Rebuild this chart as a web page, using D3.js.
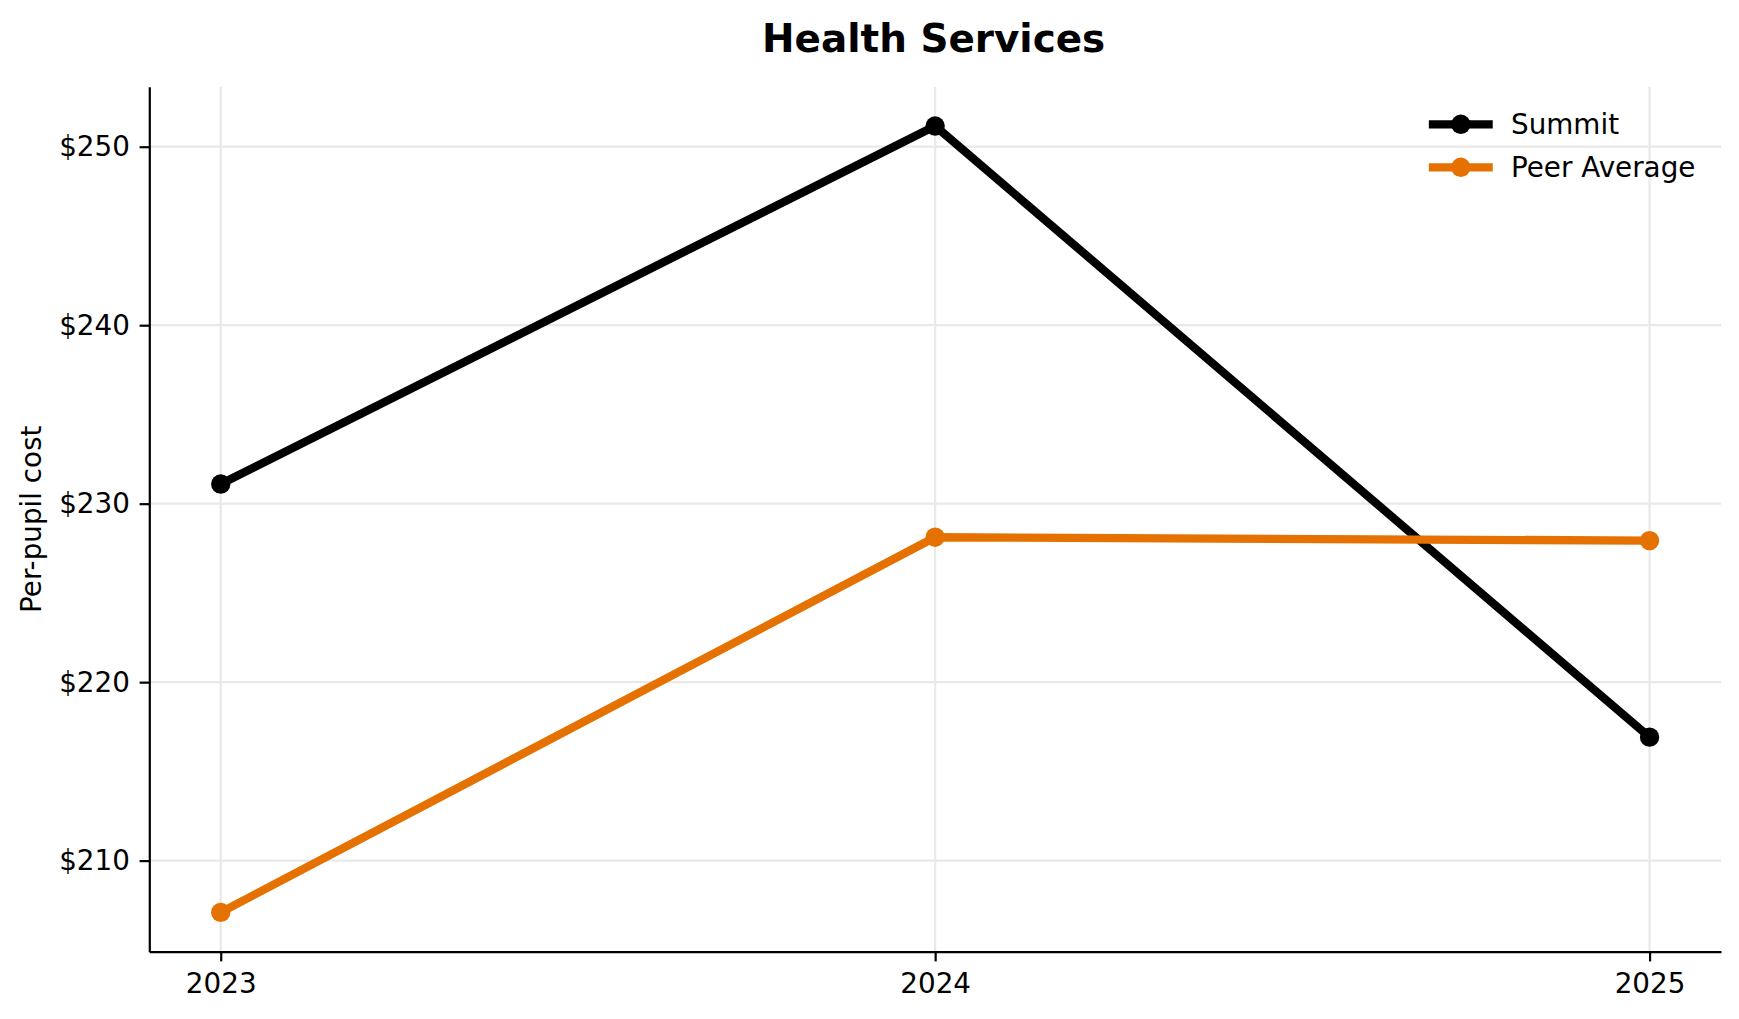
<!DOCTYPE html>
<html>
<head>
<meta charset="utf-8">
<script src="https://cdn.jsdelivr.net/npm/d3@7"></script>
<style>
body{margin:0;background:#fff;}
text{font-family:"DejaVu Sans",sans-serif;fill:#000;}
</style>
</head>
<body>
<div id="chart"></div>
<script>
const w = 1739;
const h = 1019;
const margin = {top: 86.7, right: 18, bottom: 67.3, left: 149.3};

// data
const years = [2023, 2024, 2025];
const summit = [231.1, 251.16, 216.92];
const peer = [207.1, 228.12, 227.93];
const yTicks = [210, 220, 230, 240, 250];
const seriesNames = ["Summit", "Peer Average"];
const seriesColors = ["#000000", "#e57200"];

const fs = 27.8;     // 10pt at 200dpi
const lw = 8.3;      // line width
const ms = 9.7;      // marker radius

const svg = d3.select("#chart")
.append("svg")
.attr("width", w)
.attr("height", h);

// matplotlib-like 5% margins on the data extent
const xExt = d3.extent(years);
const xPadV = (xExt[1] - xExt[0]) * 0.05;
const allY = summit.concat(peer);
const yExt = d3.extent(allY);
const yPadV = (yExt[1] - yExt[0]) * 0.05;

const x = d3.scaleLinear()
.domain([xExt[0] - xPadV, xExt[1] + xPadV])
.range([margin.left, w - margin.right]);
const y = d3.scaleLinear()
.domain([yExt[0] - yPadV, yExt[1] + yPadV])
.range([h - margin.bottom, margin.top]);

//Grid
const grid = svg.append("g");
grid.selectAll(".gx").data(years).enter().append("line")
.attr("x1", d => x(d)).attr("x2", d => x(d))
.attr("y1", margin.top).attr("y2", h - margin.bottom)
.attr("stroke", "#e9e9e9").attr("stroke-width", 2.2);
grid.selectAll(".gy").data(yTicks).enter().append("line")
.attr("x1", margin.left).attr("x2", w - margin.right)
.attr("y1", d => y(d)).attr("y2", d => y(d))
.attr("stroke", "#e9e9e9").attr("stroke-width", 2.2);

//Axes
const xAxis = d3.axisBottom(x).tickValues(years).tickFormat(d3.format("d"))
.tickSize(9.7).tickSizeOuter(0).tickPadding(12);
const yAxis = d3.axisLeft(y).tickValues(yTicks).tickFormat(d => "$" + d)
.tickSize(9.7).tickSizeOuter(0).tickPadding(9.7);

const gx = svg.append("g").attr("transform", `translate(0,${h - margin.bottom})`).call(xAxis);
const gy = svg.append("g").attr("transform", `translate(${margin.left},0)`).call(yAxis);
[gx, gy].forEach(g => {
    g.select(".domain").attr("stroke", "#000").attr("stroke-width", 2.2);
    g.selectAll(".tick line").attr("stroke", "#000").attr("stroke-width", 2.2);
    g.selectAll(".tick text").attr("font-size", fs).attr("font-family", "DejaVu Sans").attr("fill", "#000");
});

//Lines
const series = [summit, peer];
const line = d3.line().x((d, i) => x(years[i])).y(d => y(d));
series.forEach((vals, k) => {
    const g = svg.append("g");
    g.append("path")
    .datum(vals)
    .attr("d", line)
    .attr("fill", "none")
    .attr("stroke", seriesColors[k])
    .attr("stroke-width", lw)
    .attr("stroke-linejoin", "round");
    g.selectAll("circle").data(vals).enter().append("circle")
    .attr("cx", (d, i) => x(years[i]))
    .attr("cy", d => y(d))
    .attr("r", ms)
    .attr("fill", seriesColors[k]);
});

//Title
svg.append("text")
.attr("x", (margin.left + w - margin.right) / 2 - 1.5)
.attr("y", 51.7)
.attr("text-anchor", "middle")
.attr("font-size", 38.9)
.attr("font-weight", "bold")
.text("Health Services");

//Y label
svg.append("text")
.attr("transform", `translate(41,${(margin.top + h - margin.bottom) / 2}) rotate(-90)`)
.attr("text-anchor", "middle")
.attr("font-size", fs)
.text("Per-pupil cost");

//Legend
const legend = svg.append("g").attr("id", "legend");
const legX = 1433;
const legY0 = 124.3;
const legStep = 43;
seriesNames.forEach((name, k) => {
    const ly = legY0 + k * legStep;
    legend.append("line")
    .attr("x1", legX).attr("x2", legX + 55.6)
    .attr("y1", ly).attr("y2", ly)
    .attr("stroke", seriesColors[k])
    .attr("stroke-width", lw)
    .attr("stroke-linecap", "square");
    legend.append("circle")
    .attr("cx", legX + 27.8).attr("cy", ly).attr("r", ms)
    .attr("fill", seriesColors[k]);
    legend.append("text")
    .attr("x", 1511).attr("y", ly)
    .attr("dy", "0.35em")
    .attr("font-size", fs)
    .text(name);
});
</script>
</body>
</html>
